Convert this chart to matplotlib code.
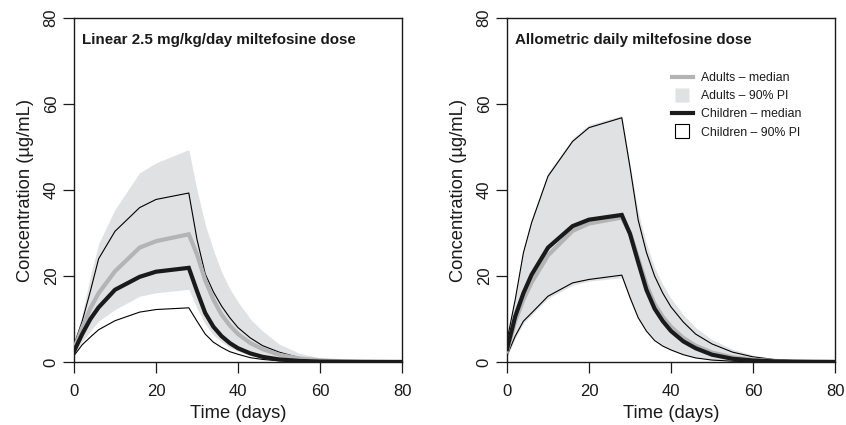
import matplotlib
matplotlib.use("Agg")
import matplotlib.pyplot as plt
from matplotlib.lines import Line2D

plt.rcParams['font.family'] = ['Liberation Sans', 'DejaVu Sans']

time_days = [0, 2, 4, 6, 10, 16, 20, 28, 30, 32, 34, 36, 38, 40, 43, 46, 50, 55, 60, 65, 70, 75, 80]

# Left panel: linear 2.5 mg/kg/day
lin_adult_lo = [2, 4.8, 7.2, 9.5, 12.2, 15.3, 16.1, 16.9, 12.5, 8.8, 6.3, 4.6, 3.4, 2.5, 1.5, 0.9, 0.45, 0.18, 0.07, 0.03, 0.01, 0, 0]
lin_adult_hi = [4, 11, 20, 27.5, 35.5, 44, 46.3, 49.4, 40, 32, 26, 21, 17, 14, 10, 7.2, 4.2, 2.0, 1.0, 0.5, 0.25, 0.12, 0.06]
lin_adult_med = [3, 8, 12.5, 16, 21.1, 26.6, 28.1, 29.7, 25, 19, 14.5, 11, 8.5, 6.5, 4.4, 3.0, 1.7, 0.8, 0.38, 0.18, 0.08, 0.04, 0.02]
lin_child_med = [2.5, 6.5, 10, 12.7, 16.8, 19.8, 21, 21.9, 16.5, 11.4, 8.2, 6, 4.4, 3.2, 2.0, 1.2, 0.6, 0.25, 0.1, 0.05, 0.02, 0.01, 0]
lin_child_lo = [1.5, 4, 5.8, 7.5, 9.6, 11.6, 12.2, 12.6, 9.5, 6.5, 4.6, 3.4, 2.4, 1.8, 1.0, 0.6, 0.28, 0.1, 0.04, 0.01, 0, 0, 0]
lin_child_hi = [4, 9.5, 16.5, 24, 30.4, 35.9, 37.8, 39.3, 28.5, 20.5, 16.3, 13, 10.3, 8.0, 5.6, 3.8, 2.3, 1.0, 0.5, 0.25, 0.12, 0.06, 0.03]

# Right panel: allometric daily dose
allo_adult_lo = [1.2, 5.5, 9, 11, 14.8, 17.9, 18.8, 19.6, 14.5, 10.2, 7.3, 5.3, 3.9, 2.9, 1.8, 1.1, 0.55, 0.22, 0.09, 0.04, 0.02, 0.01, 0]
allo_adult_hi = [5.5, 15, 26, 33.2, 44, 52, 55.2, 57.3, 46, 35, 27.5, 22, 18, 14.8, 11, 8, 5.2, 3, 1.6, 0.8, 0.4, 0.2, 0.1]
allo_adult_med = [2.5, 9.5, 14.5, 18.5, 24.8, 30.5, 32.2, 33.6, 30, 24, 18, 13.5, 10.5, 8.2, 5.6, 3.8, 2.2, 1.1, 0.55, 0.25, 0.12, 0.06, 0.03]
allo_child_med = [3, 10.6, 16, 20.3, 26.6, 31.6, 33.1, 34.2, 29.8, 23.2, 16.8, 12.4, 9.5, 7.2, 4.8, 3.2, 1.7, 0.75, 0.35, 0.16, 0.07, 0.03, 0.01]
allo_child_lo = [1.5, 6, 9.5, 11.4, 15.3, 18.4, 19.2, 20.2, 15, 10.3, 7.2, 5, 3.7, 2.8, 1.7, 0.95, 0.45, 0.18, 0.07, 0.03, 0.01, 0, 0]
allo_child_hi = [5, 14.5, 25.4, 32.4, 43.2, 51.3, 54.5, 56.8, 45.3, 33, 25.5, 20, 16, 12.8, 9.3, 6.5, 4.2, 2.3, 1.2, 0.6, 0.3, 0.15, 0.08]

titles = ["Linear 2.5 mg/kg/day miltefosine dose", "Allometric daily miltefosine dose"]
x_ticks = [0, 20, 40, 60, 80]
y_ticks = [0, 20, 40, 60, 80]
legend_labels = ["Adults \u2013 median", "Adults \u2013 90% PI", "Children \u2013 median", "Children \u2013 90% PI"]

band_col = "#e0e1e3"
adult_col = "#b4b4b4"
child_col = "#1a1a1a"
text_col = "#1a1a1a"

fig = plt.figure(figsize=(8.46, 4.25), dpi=100)
W, H = 846, 425
axes_px = [(74, 402), (507, 835)]
top_px, bot_px = 18, 362

panels = [
    (lin_adult_lo, lin_adult_hi, lin_adult_med, lin_child_med, lin_child_lo, lin_child_hi),
    (allo_adult_lo, allo_adult_hi, allo_adult_med, allo_child_med, allo_child_lo, allo_child_hi),
]

for i, ((x0, x1), data) in enumerate(zip(axes_px, panels)):
    a_lo, a_hi, a_med, c_med, c_lo, c_hi = data
    ax = fig.add_axes([x0 / W, 1 - bot_px / H, (x1 - x0) / W, (bot_px - top_px) / H])
    ax.fill_between(time_days, a_lo, a_hi, color=band_col, lw=0, zorder=1)
    ax.plot(time_days, c_lo, color="black", lw=0.8, zorder=2)
    ax.plot(time_days, c_hi, color="black", lw=0.8, zorder=2)
    ax.plot(time_days, a_med, color=adult_col, lw=3.0, zorder=3, solid_joinstyle="miter")
    ax.plot(time_days, c_med, color=child_col, lw=3.0, zorder=4, solid_joinstyle="miter")
    ax.set_xlim(0, 80)
    ax.set_ylim(0, 80)
    ax.set_xticks(x_ticks)
    ax.set_yticks(y_ticks)
    ax.set_yticklabels([str(v) for v in y_ticks], rotation=90, va="center")
    ax.tick_params(direction="out", length=8, width=0.9, labelsize=12, colors=text_col)
    ax.tick_params(axis="x", pad=8)
    ax.tick_params(axis="y", pad=3)
    for s in ax.spines.values():
        s.set_linewidth(1.0)
        s.set_color(text_col)
    ax.set_xlabel("Time (days)", fontsize=13.2, labelpad=4.5, color=text_col)
    ax.set_ylabel("Concentration (\u00b5g/mL)", fontsize=13.2, labelpad=7, color=text_col)
    ax.text(0.025, 0.937, titles[i], transform=ax.transAxes, fontsize=10.9,
            fontweight="bold", ha="left", va="center", color=text_col)
    if i == 1:
        handles = [
            Line2D([0], [0], color=adult_col, lw=3.0),
            Line2D([], [], marker="s", markersize=10, markerfacecolor=band_col,
                   markeredgecolor="none", linestyle="none"),
            Line2D([0], [0], color=child_col, lw=3.0),
            Line2D([], [], marker="s", markersize=10, markerfacecolor="white",
                   markeredgecolor="black", markeredgewidth=0.8, linestyle="none"),
        ]
        ax.legend(handles, legend_labels, loc="upper left", bbox_to_anchor=(0.502, 0.843),
                  frameon=False, fontsize=8.8, handlelength=1.77, handleheight=0.7,
                  labelspacing=0.51, handletextpad=0.6, borderaxespad=0, borderpad=0,
                  labelcolor=text_col)

fig.savefig("out.png", dpi=100)
